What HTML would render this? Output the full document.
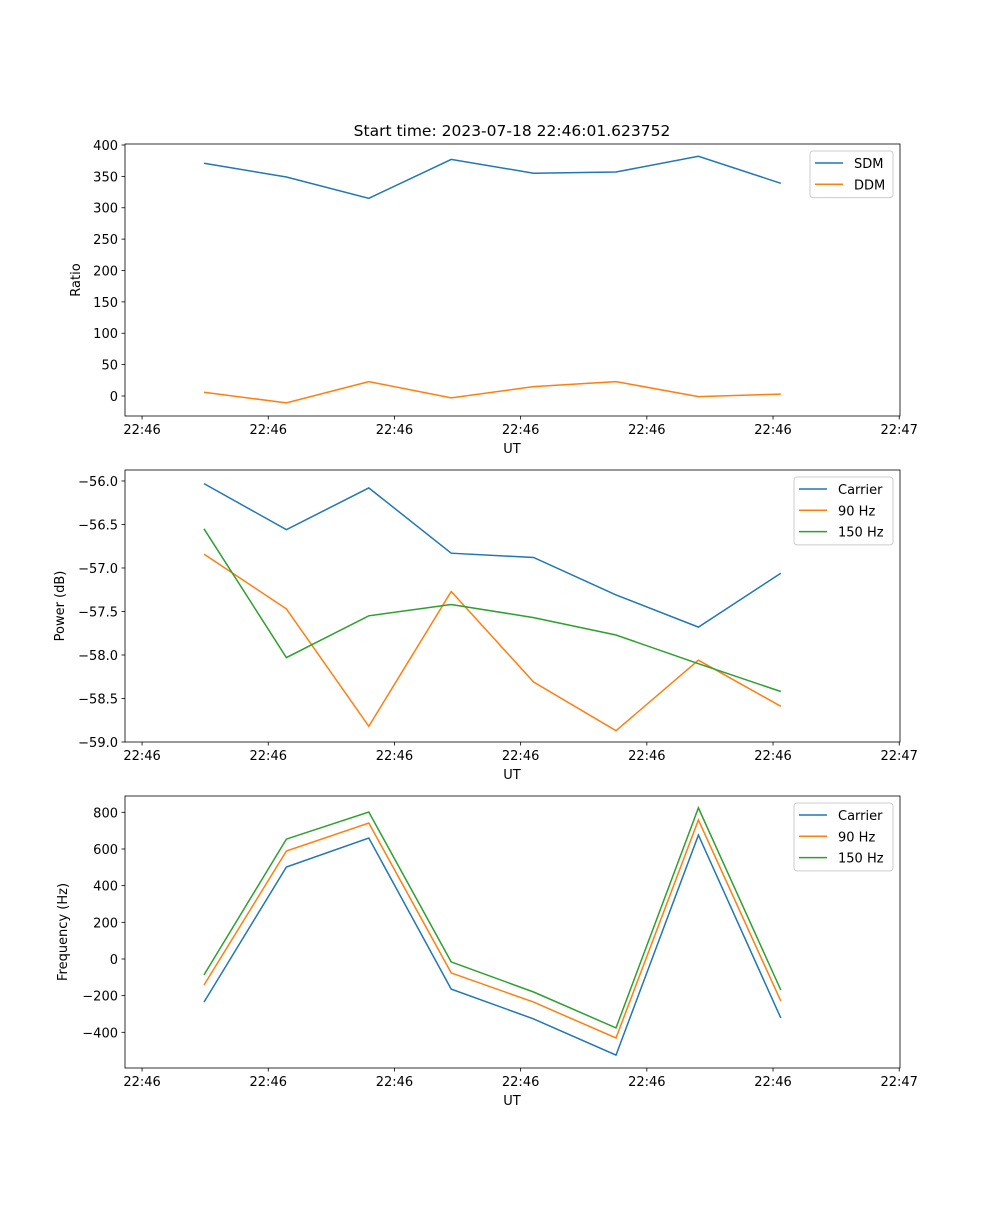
<!DOCTYPE html>
<html><head><meta charset="utf-8"><style>
body{margin:0;background:#fff}
svg text{font-family:"DejaVu Sans","Liberation Sans",sans-serif;fill:#000}
</style></head><body>
<svg id="fig" width="1000" height="1200" xmlns="http://www.w3.org/2000/svg">
<text x="512" y="136" font-size="15.5" text-anchor="middle">Start time: 2023-07-18 22:46:01.623752</text>
</svg>
<script>
const sampleIdx=[0,1,2,3,4,5,6,7];
const xTickPos=[-0.752,0.7796,2.3112,3.8428,5.3744,6.906,8.4376];
const xTickLabels=["22:46","22:46","22:46","22:46","22:46","22:46","22:47"];
const sdm=[371,349,315,377,355,357,382,339];
const ddm=[6,-11,23,-3,15,23,-1,3];
const powCarrier=[-56.03,-56.56,-56.08,-56.83,-56.88,-57.31,-57.68,-57.06];
const pow90=[-56.84,-57.47,-58.82,-57.27,-58.31,-58.87,-58.06,-58.59];
const pow150=[-56.55,-58.03,-57.55,-57.42,-57.57,-57.77,-58.1,-58.42];
const freqCarrier=[-235,502,660,-164,-327,-524,676,-322];
const freq90=[-142,589,742,-76,-235,-431,758,-229];
const freq150=[-87,654,802,-16,-180,-376,824,-169];
const ratioTicks=[0,50,100,150,200,250,300,350,400];
const powTicks=[-59,-58.5,-58,-57.5,-57,-56.5,-56];
const freqTicks=[-400,-200,0,200,400,600,800];

const svg=document.getElementById('fig');
const NS='http://www.w3.org/2000/svg';
function el(tag,attrs,parent){const e=document.createElementNS(NS,tag);for(const k in attrs)e.setAttribute(k,attrs[k]);(parent||svg).appendChild(e);return e;}
const L=125,R=900,xmin=-0.959,xmax=8.447;
const xs=v=>L+(v-xmin)/(xmax-xmin)*(R-L);
const C=['#1f77b4','#ff7f0e','#2ca02c'];
const FS=13;

function panel(name,top,bot,ymin,ymax,ticks,fmt,ylabel,series,names,legend){
  const g=el('g',{});
  
  
  const ys=v=>bot-(v-ymin)/(ymax-ymin)*(bot-top);
  series.forEach((s,si)=>{
    const p=el('polyline',{points:s.map((v,i)=>xs(sampleIdx[i]).toFixed(1)+','+ys(v).toFixed(1)).join(' '),fill:'none',stroke:C[si],'stroke-width':1.5},g);
    
    
  });
  const fr=el('rect',{x:L,y:top,width:R-L,height:bot-top,fill:'none',stroke:'#000','stroke-width':0.8},g);
  
  
  xTickPos.forEach((t,i)=>{
    const x=xs(t);
    el('line',{x1:x,x2:x,y1:bot,y2:bot+3.5,stroke:'#000','stroke-width':0.8},g);
    const tx=el('text',{x:x,y:bot+18,'font-size':FS,'text-anchor':'middle'},g);tx.textContent=xTickLabels[i];
    
    
  });
  const xl=el('text',{x:512,y:bot+37,'font-size':FS,'text-anchor':'middle'},g);xl.textContent='UT';
  
  
  ticks.forEach(t=>{
    const y=ys(t);
    el('line',{x1:L-3.5,x2:L,y1:y,y2:y,stroke:'#000','stroke-width':0.8},g);
    const tx=el('text',{x:L-7,y:y+5,'font-size':FS,'text-anchor':'end'},g);tx.textContent=fmt(t);
    
    
  });
  const yl=el('text',{x:0,y:0,'font-size':FS,'text-anchor':'middle',transform:`translate(${legend.ylx},${(top+bot)/2}) rotate(-90)`},g);yl.textContent=ylabel;
  
  
  const lg=el('g',{},g);
  
  
  el('rect',{x:legend.x,y:top+7,width:R-7-legend.x,height:names.length*21.3+4,rx:3,fill:'#fff','fill-opacity':0.8,stroke:'#ccc','stroke-width':1},lg);
  names.forEach((n,i)=>{
    const y=top+19+i*21.3;
    el('line',{x1:legend.x+5,x2:legend.x+33,y1:y,y2:y,stroke:C[i],'stroke-width':1.5},lg);
    const tx=el('text',{x:legend.x+44,y:y+5,'font-size':FS},lg);tx.textContent=n;
    
    
  });
}
panel('ratio',144,416,-31.9,401.6,ratioTicks,v=>String(v),'Ratio',[sdm,ddm],['SDM','DDM'],{x:810,ylx:80});
panel('power',470,742,-59.0,-55.874,powTicks,v=>(v<0?'\u2212':'')+Math.abs(v).toFixed(1),'Power (dB)',[powCarrier,pow90,pow150],['Carrier','90 Hz','150 Hz'],{x:794,ylx:64});
panel('frequency',796,1068,-594.6,889,freqTicks,v=>(v<0?'\u2212':'')+Math.abs(v),'Frequency (Hz)',[freqCarrier,freq90,freq150],['Carrier','90 Hz','150 Hz'],{x:794,ylx:67});
</script>
</body></html>
